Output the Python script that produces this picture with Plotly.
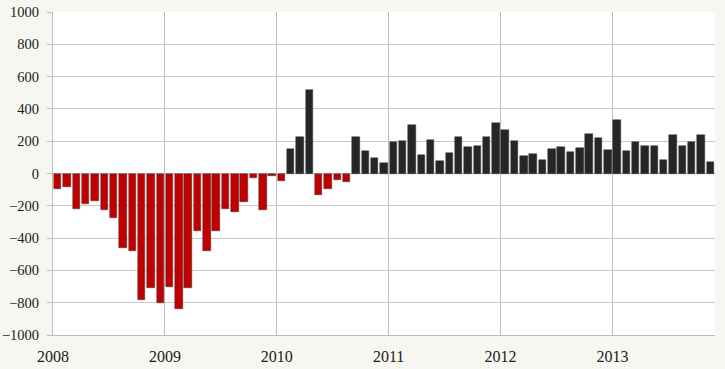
import plotly.graph_objects as go

years = [2008, 2009, 2010, 2011, 2012, 2013]
values = [
    # 2008
    -93, -85, -221, -188, -173, -225, -275, -464, -479, -782, -708, -803,
    # 2009
    -700, -838, -708, -357, -479, -357, -217, -241, -178, -25, -227, -17,
    # 2010
    -45, 153, 229, 520, -134, -93, -41, -50, 229, 142, 93, 66,
    # 2011
    194, 204, 303, 114, 208, 76, 130, 225, 165, 171, 229, 310,
    # 2012
    270, 204, 109, 122, 85, 151, 163, 134, 159, 244, 219, 144,
    # 2013
    330, 138, 198, 173, 171, 85, 237, 171, 198, 241, 72,
]
month_index = list(range(len(values)))
x_pos = [i + 0.5 for i in month_index]
colors = ["#C00000" if v < 0 else "#262626" for v in values]

fig = go.Figure(go.Bar(
    x=x_pos, y=values, width=0.8,
    marker=dict(color=colors, line=dict(color="#3a3a3a", width=0.5)),
    hoverinfo="skip",
))

fig.update_layout(
    width=725, height=369,
    margin=dict(l=53, r=10, t=12, b=34, autoexpand=False),
    paper_bgcolor="#F7F6F0",
    plot_bgcolor="#FFFFFF",
    showlegend=False,
    bargap=0,
    font=dict(family="Liberation Serif, Times New Roman, serif", size=15, color="#1a1a1a"),
)
fig.update_xaxes(
    range=[0, len(values)],
    tickmode="array",
    tickvals=[12 * i for i in range(len(years))],
    ticktext=[str(y) for y in years],
    tickfont=dict(size=16),
    showgrid=True, gridcolor="#BDBDBD", gridwidth=1,
    showline=True, linecolor="#BDBDBD", linewidth=1,
    ticks="outside", ticklen=7, tickcolor="rgba(0,0,0,0)",
    zeroline=False, fixedrange=True, automargin=False,
)
fig.update_yaxes(
    range=[-1000, 1000],
    tickmode="array",
    tickvals=list(range(-1000, 1001, 200)),
    tickfont=dict(size=14.5),
    showgrid=True, gridcolor="#C8C8C8", gridwidth=1,
    showline=True, linecolor="#BDBDBD", linewidth=1,
    ticks="outside", ticklen=5, tickcolor="#BDBDBD", tickwidth=1,
    ticklabelstandoff=5,
    zeroline=False, fixedrange=True, automargin=False,
)

fig.write_html(
    "out.html",
    config={"displayModeBar": False},
    post_script="document.body.style.margin='0';document.body.style.padding='0';document.body.style.background='#F7F6F0';document.body.style.overflow='hidden';",
)
